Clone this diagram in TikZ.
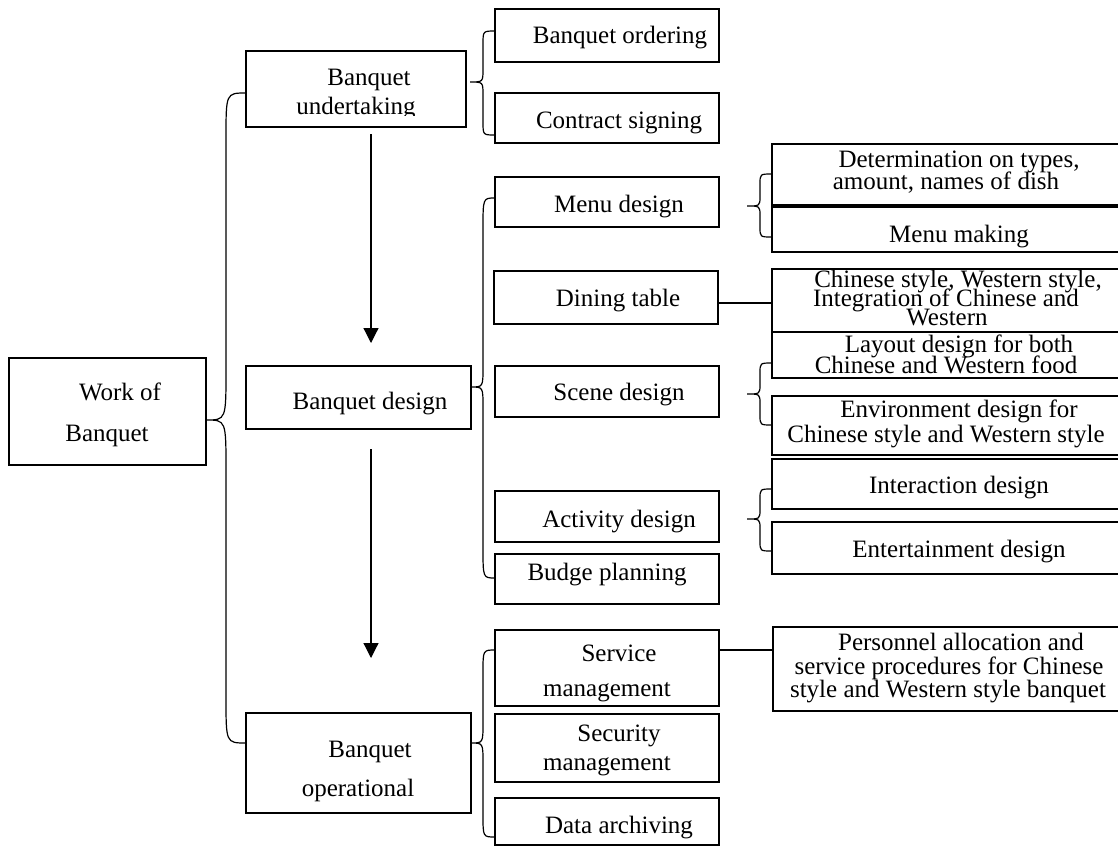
\documentclass[tikz,border=0pt]{standalone}
\usepackage{fontspec}
\setmainfont{Liberation Serif}
\usetikzlibrary{arrows.meta}
\newcommand\bx[5]{\node[box,minimum width={#4-#2},minimum height={#5-#3},anchor=north west] (#1) at (#2,#3) {};}
\newcommand\tx[4]{\node[txt] (#1) at (#2,#3) {#4};}
\newcommand\drawbrace[8]{\draw[br] ({#4},{#5}) .. controls ({#3},{#5}) .. ({#3},{#5+#7}) -- ({#3},{#2-#8}) .. controls ({#3},{#2}) .. ({#1},{#2}) .. controls ({#3},{#2}) .. ({#3},{#2+#8}) -- ({#3},{#6-#7}) .. controls ({#3},{#6}) .. ({#4},{#6});}
\begin{document}
\begin{tikzpicture}[x=1pt,y=-1pt,
  box/.style={draw,line width=1.3pt,inner sep=0pt,outer sep=0pt},
  txt/.style={anchor=base,inner sep=0pt,font=\fontsize{25}{25}\selectfont},
  br/.style={line width=1.2pt},
  arr/.style={line width=1.2pt,-{Triangle[width=15pt,length=15pt]}}]
\useasboundingbox (0,0) rectangle (1118,846);
% boxes
\bx{work}{9}{358}{206}{465}
\bx{und}{246}{51}{466}{127}
\bx{des}{246}{366}{471}{429}
\bx{ope}{246}{713}{471}{813}
\bx{ord}{495}{9}{719}{62}
\bx{con}{495}{93}{719}{143}
\bx{men}{495}{177}{719}{227}
\bx{din}{494}{271}{718}{324}
\bx{sce}{495}{366}{719}{417}
\bx{act}{495}{491}{719}{542}
\bx{bud}{495}{554}{719}{604}
\bx{ser}{495}{630}{719}{706}
\bx{sec}{495}{714}{719}{782}
\bx{dat}{495}{798}{719}{845}
\bx{det}{772}{144}{1130}{205}
\bx{mmk}{772}{207}{1130}{252}
\bx{chi}{772}{269}{1130}{332}
\bx{lay}{772}{332}{1130}{378}
\bx{env}{772}{396}{1130}{455}
\bx{int}{772}{459}{1130}{509}
\bx{ent}{772}{522}{1130}{574}
\bx{per}{773}{627}{1130}{711}
% texts
\tx{t1}{120}{400}{Work of}
\tx{t2}{107}{441}{Banquet}
\tx{t3}{369}{85}{Banquet}
\begin{scope}
\clip (und.north west) rectangle (466,115.5);
\tx{t4}{356}{114}{undertaking}
\end{scope}
\tx{t5}{370}{409}{Banquet design}
\tx{t6}{370}{757}{Banquet}
\tx{t7}{358}{796}{operational}
\tx{t8}{620}{43}{Banquet ordering}
\tx{t9}{619}{128}{Contract signing}
\tx{t10}{619}{212}{Menu design}
\tx{t11}{618}{306}{Dining table}
\tx{t12}{619}{400}{Scene design}
\tx{t13}{619}{527}{Activity design}
\tx{t14}{607}{580}{Budge planning}
\tx{t15}{619}{661}{Service}
\tx{t16}{607}{696}{management}
\tx{t17}{619}{741}{Security}
\tx{t18}{607}{770}{management}
\tx{t19}{619}{833}{Data archiving}
\tx{t20}{959}{167}{Determination on types,}
\tx{t21}{946}{189}{amount, names of dish}
\tx{t22}{959}{242}{Menu making}
\tx{t23}{958}{287}{Chinese style, Western style,}
\tx{t24}{946}{306}{Integration of Chinese and}
\tx{t25}{947}{325}{Western}
\tx{t26}{959}{352}{Layout design for both}
\tx{t27}{946}{373}{Chinese and Western food}
\tx{t28}{959}{417}{Environment design for}
\tx{t29}{946}{442}{Chinese style and Western style}
\tx{t30}{959}{493}{Interaction design}
\tx{t31}{959}{557}{Entertainment design}
\tx{t32}{961}{650}{Personnel allocation and}
\tx{t33}{949}{674}{service procedures for Chinese}
\tx{t34}{948}{697}{style and Western style banquet}
% braces
\drawbrace{206}{420}{226}{246}{93}{743}{45}{50}
\drawbrace{470}{82}{483}{495}{31}{135}{13}{13}
\drawbrace{471}{387}{483}{495}{198}{578}{30}{20}
\drawbrace{471}{743}{483}{495}{650}{837}{22}{20}
\drawbrace{747}{206}{760}{772}{174}{237}{10}{10}
\drawbrace{747}{394}{760}{772}{363}{425}{10}{10}
\drawbrace{747}{519}{760}{772}{489}{551}{10}{10}
% plain connectors
\draw[br] ([yshift=-5.5pt]din.east) -- ([yshift=-2.5pt]chi.west);
\draw[br] ([yshift=18pt]ser.east) -- ([yshift=19pt]per.west);
% arrows
\coordinate (a1s) at (371,134);
\coordinate (a1e) at (371,343);
\coordinate (a2s) at (371,449);
\coordinate (a2e) at (371,658);
\draw[arr] (a1s) -- (a1e);
\draw[arr] (a2s) -- (a2e);
\end{tikzpicture}
\end{document}
